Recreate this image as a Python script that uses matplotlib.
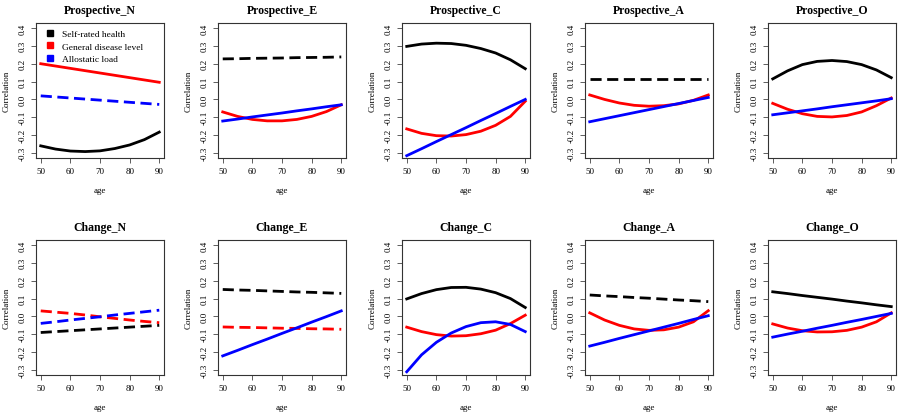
import matplotlib.pyplot as plt
from matplotlib.lines import Line2D

plt.rcParams['font.family'] = ['Liberation Serif', 'DejaVu Serif']

age = [50, 55, 60, 65, 70, 75, 80, 85, 90]

# Prospective_N
p_n_srh = [-0.26, -0.278, -0.289, -0.292, -0.288, -0.275, -0.255, -0.225, -0.183]
p_n_gdl = [0.20, 0.187, 0.174, 0.161, 0.148, 0.135, 0.122, 0.109, 0.096]
p_n_al = [0.02, 0.014, 0.008, 0.002, -0.004, -0.010, -0.016, -0.022, -0.028]
# Prospective_E
p_e_srh = [0.227, 0.228, 0.230, 0.231, 0.232, 0.234, 0.235, 0.236, 0.238]
p_e_gdl = [-0.07, -0.095, -0.112, -0.12, -0.12, -0.112, -0.095, -0.068, -0.03]
p_e_al = [-0.121, -0.110, -0.098, -0.087, -0.076, -0.064, -0.053, -0.041, -0.030]
# Prospective_C
p_c_srh = [0.297, 0.31, 0.315, 0.313, 0.303, 0.285, 0.26, 0.222, 0.172]
p_c_gdl = [-0.165, -0.19, -0.203, -0.205, -0.197, -0.178, -0.145, -0.095, -0.01]
p_c_al = [-0.315, -0.276, -0.236, -0.197, -0.158, -0.118, -0.079, -0.039, 0.0]
# Prospective_A
p_a_srh = [0.114, 0.114, 0.114, 0.114, 0.114, 0.114, 0.114, 0.114, 0.114]
p_a_gdl = [0.025, 0.0, -0.02, -0.033, -0.038, -0.035, -0.025, -0.005, 0.025]
p_a_al = [-0.125, -0.108, -0.091, -0.074, -0.057, -0.040, -0.023, -0.006, 0.011]
# Prospective_O
p_o_srh = [0.115, 0.16, 0.195, 0.213, 0.218, 0.212, 0.195, 0.165, 0.122]
p_o_gdl = [-0.022, -0.055, -0.08, -0.095, -0.098, -0.09, -0.07, -0.035, 0.008]
p_o_al = [-0.086, -0.075, -0.064, -0.053, -0.041, -0.030, -0.019, -0.008, 0.004]
# Change_N
c_n_srh = [-0.09, -0.085, -0.08, -0.075, -0.07, -0.065, -0.06, -0.055, -0.05]
c_n_gdl = [0.031, 0.024, 0.017, 0.008, -0.002, -0.011, -0.02, -0.028, -0.035]
c_n_al = [-0.039, -0.03, -0.02, -0.011, -0.002, 0.008, 0.017, 0.026, 0.035]
# Change_E
c_e_srh = [0.151, 0.148, 0.146, 0.143, 0.140, 0.137, 0.135, 0.132, 0.129]
c_e_gdl = [-0.059, -0.061, -0.062, -0.064, -0.066, -0.067, -0.069, -0.070, -0.072]
c_e_al = [-0.221, -0.190, -0.158, -0.127, -0.095, -0.064, -0.032, -0.001, 0.031]
# Change_C
c_c_srh = [0.098, 0.128, 0.15, 0.162, 0.163, 0.153, 0.133, 0.10, 0.05]
c_c_gdl = [-0.06, -0.085, -0.102, -0.11, -0.108, -0.097, -0.077, -0.04, 0.007]
c_c_al = [-0.31, -0.215, -0.145, -0.093, -0.057, -0.035, -0.03, -0.045, -0.085]
# Change_A
c_a_srh = [0.12, 0.115, 0.111, 0.106, 0.102, 0.097, 0.092, 0.088, 0.083]
c_a_gdl = [0.02, -0.02, -0.05, -0.07, -0.078, -0.075, -0.06, -0.03, 0.032]
c_a_al = [-0.166, -0.145, -0.123, -0.102, -0.081, -0.060, -0.039, -0.017, 0.004]
# Change_O
c_o_srh = [0.138, 0.128, 0.117, 0.107, 0.097, 0.086, 0.076, 0.065, 0.055]
c_o_gdl = [-0.042, -0.065, -0.08, -0.087, -0.086, -0.078, -0.06, -0.03, 0.02]
c_o_al = [-0.116, -0.099, -0.083, -0.066, -0.050, -0.033, -0.017, 0.0, 0.017]

titles = ['Prospective_N', 'Prospective_E', 'Prospective_C', 'Prospective_A', 'Prospective_O',
          'Change_N', 'Change_E', 'Change_C', 'Change_A', 'Change_O']
series = [(p_n_srh, p_n_gdl, p_n_al), (p_e_srh, p_e_gdl, p_e_al), (p_c_srh, p_c_gdl, p_c_al),
          (p_a_srh, p_a_gdl, p_a_al), (p_o_srh, p_o_gdl, p_o_al),
          (c_n_srh, c_n_gdl, c_n_al), (c_e_srh, c_e_gdl, c_e_al), (c_c_srh, c_c_gdl, c_c_al),
          (c_a_srh, c_a_gdl, c_a_al), (c_o_srh, c_o_gdl, c_o_al)]
# True = dashed (non-significant), order: srh, gdl, al
dashed = [(False, False, True), (True, False, False), (False, False, False),
          (True, False, False), (False, False, False),
          (True, True, True), (True, True, False), (False, False, False),
          (True, False, False), (False, False, False)]
colors = ['black', 'red', 'blue']
labels = ['Self-rated health', 'General disease level', 'Allostatic load']

fig = plt.figure(figsize=(8.99, 4.14), dpi=100)
W, H = 899, 414
lefts = [36, 218, 402, 585, 768]
tops = [24, 241]
aw, ah = 128, 135

for i in range(10):
    r, c = divmod(i, 5)
    ax = fig.add_axes([lefts[c] / W, 1 - (tops[r] + ah) / H, aw / W, ah / H])
    for s, col, d in zip(series[i], colors, dashed[i]):
        ax.plot(age, s, color=col, lw=2, ls=(0, (4, 2)) if d else '-')
    ax.set_xlim(48.4, 91.6)
    ax.set_ylim(-0.328, 0.428)
    ax.set_xticks([50, 60, 70, 80, 90])
    ax.set_yticks([-0.3, -0.2, -0.1, 0.0, 0.1, 0.2, 0.3, 0.4])
    ax.set_yticklabels(['-0.3', '-0.2', '-0.1', '0.0', '0.1', '0.2', '0.3', '0.4'],
                       rotation=90, va='center')
    ax.tick_params(labelsize=6.5, length=3.5, width=0.6, color='#444444', pad=3)
    for sp in ax.spines.values():
        sp.set_linewidth(0.8)
        sp.set_color('#333333')
    ax.set_title(titles[i], fontsize=8.5, fontweight='bold', pad=7)
    ax.set_xlabel('age', fontsize=6.5, labelpad=8)
    ax.set_ylabel('Correlation', fontsize=6.5, labelpad=6)
    if i == 0:
        handles = [Line2D([], [], ls='none', marker='s', ms=4, color=col) for col in colors]
        ax.legend(handles, labels, loc='upper left', frameon=False, fontsize=6.8,
                  handletextpad=0.5, borderaxespad=0.3, labelspacing=0.4,
                  handlelength=1.5, bbox_to_anchor=(0.0, 1.0))

fig.savefig('out.png', dpi=100)
